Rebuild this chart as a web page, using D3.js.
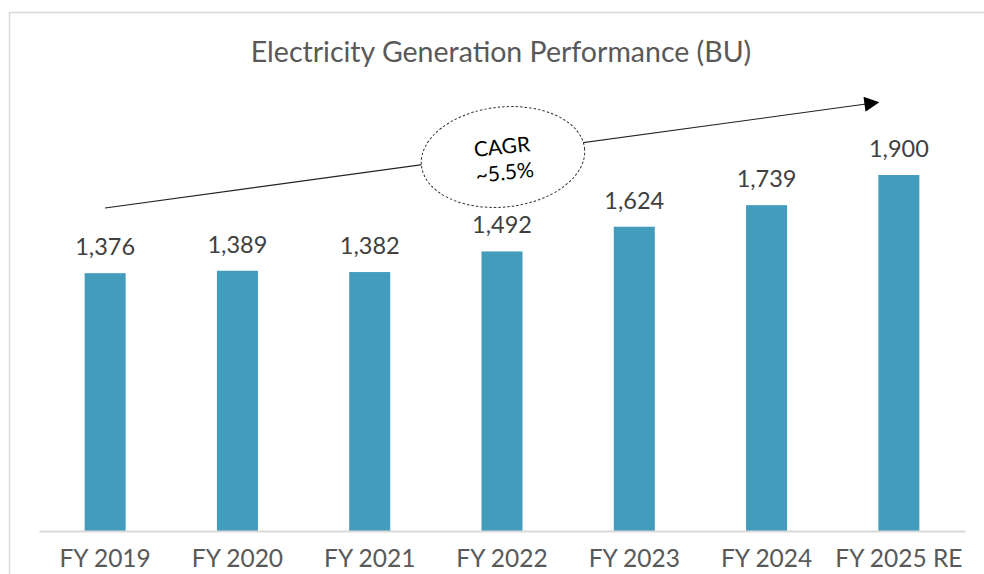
<!DOCTYPE html>
<html><head><meta charset="utf-8">
<script src="https://cdn.jsdelivr.net/npm/d3@7"></script>
<style>html,body{margin:0;padding:0;background:#fff;overflow:hidden}</style>
</head><body><svg id="c" width="984" height="574"></svg>
<script>
const categories = ["FY 2019","FY 2020","FY 2021","FY 2022","FY 2023","FY 2024","FY 2025 RE"];
const values = [1376,1389,1382,1492,1624,1739,1900];
const title = "Electricity Generation Performance (BU)";
const cagrLines = ["CAGR","~5.5%"];

const svg = d3.select("#c");
const font = "'Gill Sans','Gill Sans MT',Lato,'Open Sans',sans-serif";

// frame
svg.append("rect").attr("x",9.5).attr("y",12.5).attr("width",1100).attr("height",700)
  .attr("fill","none").attr("stroke","#d9d9d9").attr("stroke-width",1.5);

const x = d3.scaleBand().domain(categories).range([39,965]).paddingInner(0.69).paddingOuter(0.345);
const y = d3.scaleLinear().domain([0,1900]).range([531,175]);

svg.append("text").attr("x",501).attr("y",62).attr("text-anchor","middle")
  .attr("font-family",font).attr("font-size",28.5).attr("fill","#595959").text(title);

svg.selectAll("rect.bar").data(values).join("rect").attr("class","bar")
  .attr("x",(d,i)=>x(categories[i])).attr("width",x.bandwidth())
  .attr("y",d=>y(d)).attr("height",d=>y(0)-y(d)).attr("fill","#439cbb");

svg.selectAll("text.val").data(values).join("text").attr("class","val")
  .attr("x",(d,i)=>x(categories[i])+x.bandwidth()/2).attr("y",d=>y(d)-18)
  .attr("text-anchor","middle").attr("font-family",font).attr("font-size",23.5)
  .attr("fill","#404040").text(d=>d3.format(",")(d));

const axis = d3.axisBottom(x).tickSize(0).tickPadding(19);
const g = svg.append("g").attr("transform","translate(0,531)").call(axis);
g.select(".domain").attr("stroke","#d9d9d9").attr("stroke-width",2);
g.selectAll("text").attr("font-family",font).attr("font-size",24.5).attr("fill","#595959").attr("dy","0.71em");

// arrow
const defs = svg.append("defs");
defs.append("marker").attr("id","ah").attr("viewBox","0 0 10 10").attr("refX",1).attr("refY",5)
  .attr("markerWidth",20).attr("markerHeight",15).attr("markerUnits","userSpaceOnUse").attr("orient","auto")
  .append("path").attr("d","M0,0 L10,5 L0,10 Z").attr("fill","#000");
svg.append("line").attr("x1",105).attr("y1",208).attr("x2",866).attr("y2",104)
  .attr("stroke","#222").attr("stroke-width",1.1).attr("marker-end","url(#ah)");

// ellipse
const eg = svg.append("g").attr("transform","translate(503,157) rotate(-6)");
eg.append("ellipse").attr("rx",82).attr("ry",50).attr("fill","#fff")
  .attr("stroke","#333").attr("stroke-width",1).attr("stroke-dasharray","2.5,2");
eg.selectAll("text").data(cagrLines).join("text")
  .attr("x",0).attr("y",(d,i)=>i===0?-3:23).attr("text-anchor","middle")
  .attr("font-family",font).attr("font-size",21).attr("fill","#000").text(d=>d);
</script></body></html>
